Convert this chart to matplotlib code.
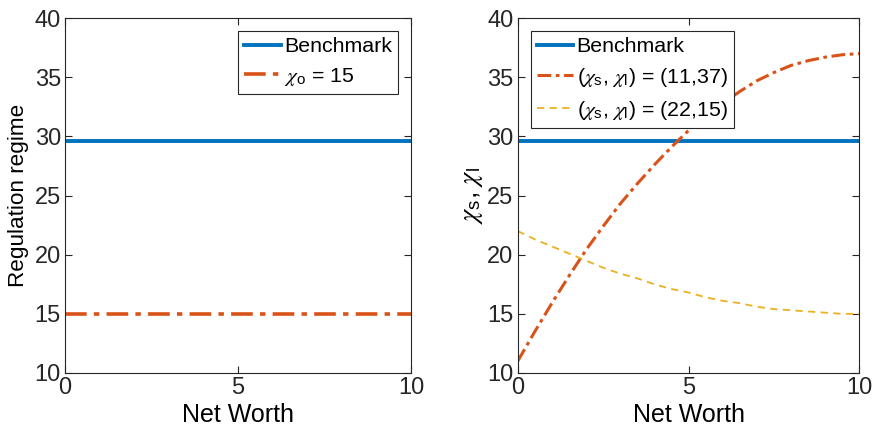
import numpy as np
import matplotlib
matplotlib.use('Agg')
import matplotlib.pyplot as plt

plt.rcParams['font.family'] = ['Liberation Sans', 'DejaVu Sans']
plt.rcParams['mathtext.fontset'] = 'custom'
plt.rcParams['mathtext.rm'] = 'Liberation Sans'
plt.rcParams['mathtext.it'] = 'STIXGeneral:italic'
plt.rcParams['axes.edgecolor'] = '#262626'
plt.rcParams['xtick.color'] = '#262626'
plt.rcParams['ytick.color'] = '#262626'

# data
net_worth = [0, 0.5, 1, 1.5, 2, 2.5, 3, 3.5, 4, 4.5, 5, 5.5, 6, 6.5, 7, 7.5, 8, 8.5, 9, 9.5, 10]
benchmark = 29.6
chi_o = 15
chi_11_37 = [11, 13.5, 15.9, 18.2, 20.4, 22.4, 24.3, 26.0, 27.6, 29.1, 30.5,
             31.7, 32.8, 33.8, 34.7, 35.4, 36.0, 36.4, 36.7, 36.9, 37]
chi_22_15 = [22, 21.3, 20.7, 20.1, 19.5, 18.9, 18.4, 18.0, 17.5, 17.1, 16.8,
             16.4, 16.1, 15.9, 15.6, 15.4, 15.3, 15.2, 15.1, 15.0, 15.0]

blue = '#0072BD'
red = '#D95319'
yellow = '#EDB120'

fig = plt.figure(figsize=(8.76, 4.36), dpi=100)
ax1 = fig.add_axes([0.0742, 0.1445, 0.395, 0.814])
ax2 = fig.add_axes([0.591, 0.1445, 0.390, 0.814])

x = np.array(net_worth)

ax1.plot(x, np.full(len(x), benchmark), color=blue, lw=2.8, label='Benchmark')
ax1.plot(x, np.full(len(x), chi_o), color=red, lw=2.6, ls=(0, (6, 2, 1.5, 2)),
         label=r'$\chi_\mathrm{o}$ = 15')
ax1.set_ylabel('Regulation regime', fontsize=16.2, labelpad=4)

ax2.plot(x, np.full(len(x), benchmark), color=blue, lw=2.8, label='Benchmark')
ax2.plot(x, chi_11_37, color=red, lw=2.2, ls=(0, (4.5, 1.5, 1.2, 1.5)),
         label=r'($\chi_\mathrm{s}$, $\chi_\mathrm{l}$) = (11,37)')
ax2.plot(x, chi_22_15, color=yellow, lw=1.3, ls=(0, (4, 3)),
         label=r'($\chi_\mathrm{s}$, $\chi_\mathrm{l}$) = (22,15)')
ax2.set_ylabel(r'$\chi_\mathrm{s}$, $\chi_\mathrm{l}$', fontsize=19, labelpad=2)

for ax in (ax1, ax2):
    ax.set_xlim(0, 10)
    ax.set_ylim(10, 40)
    ax.set_xticks([0, 5, 10])
    ax.set_yticks([10, 15, 20, 25, 30, 35, 40])
    ax.tick_params(direction='in', top=True, right=True, labelsize=17, length=5,
                   width=0.8, pad=3)
    ax.set_xlabel('Net Worth', fontsize=18, labelpad=3)
    for s in ax.spines.values():
        s.set_linewidth(0.8)

leg_kw = dict(fontsize=15.4, fancybox=False, framealpha=1, edgecolor='#262626',
              handlelength=1.7, borderpad=0.3, labelspacing=0.45,
              handletextpad=0.15, borderaxespad=0.6)
leg1 = ax1.legend(loc='upper right', **leg_kw)
leg2 = ax2.legend(loc='upper left', **leg_kw)
for leg in (leg1, leg2):
    leg.get_frame().set_linewidth(0.8)

fig.savefig('out.png', dpi=100)
